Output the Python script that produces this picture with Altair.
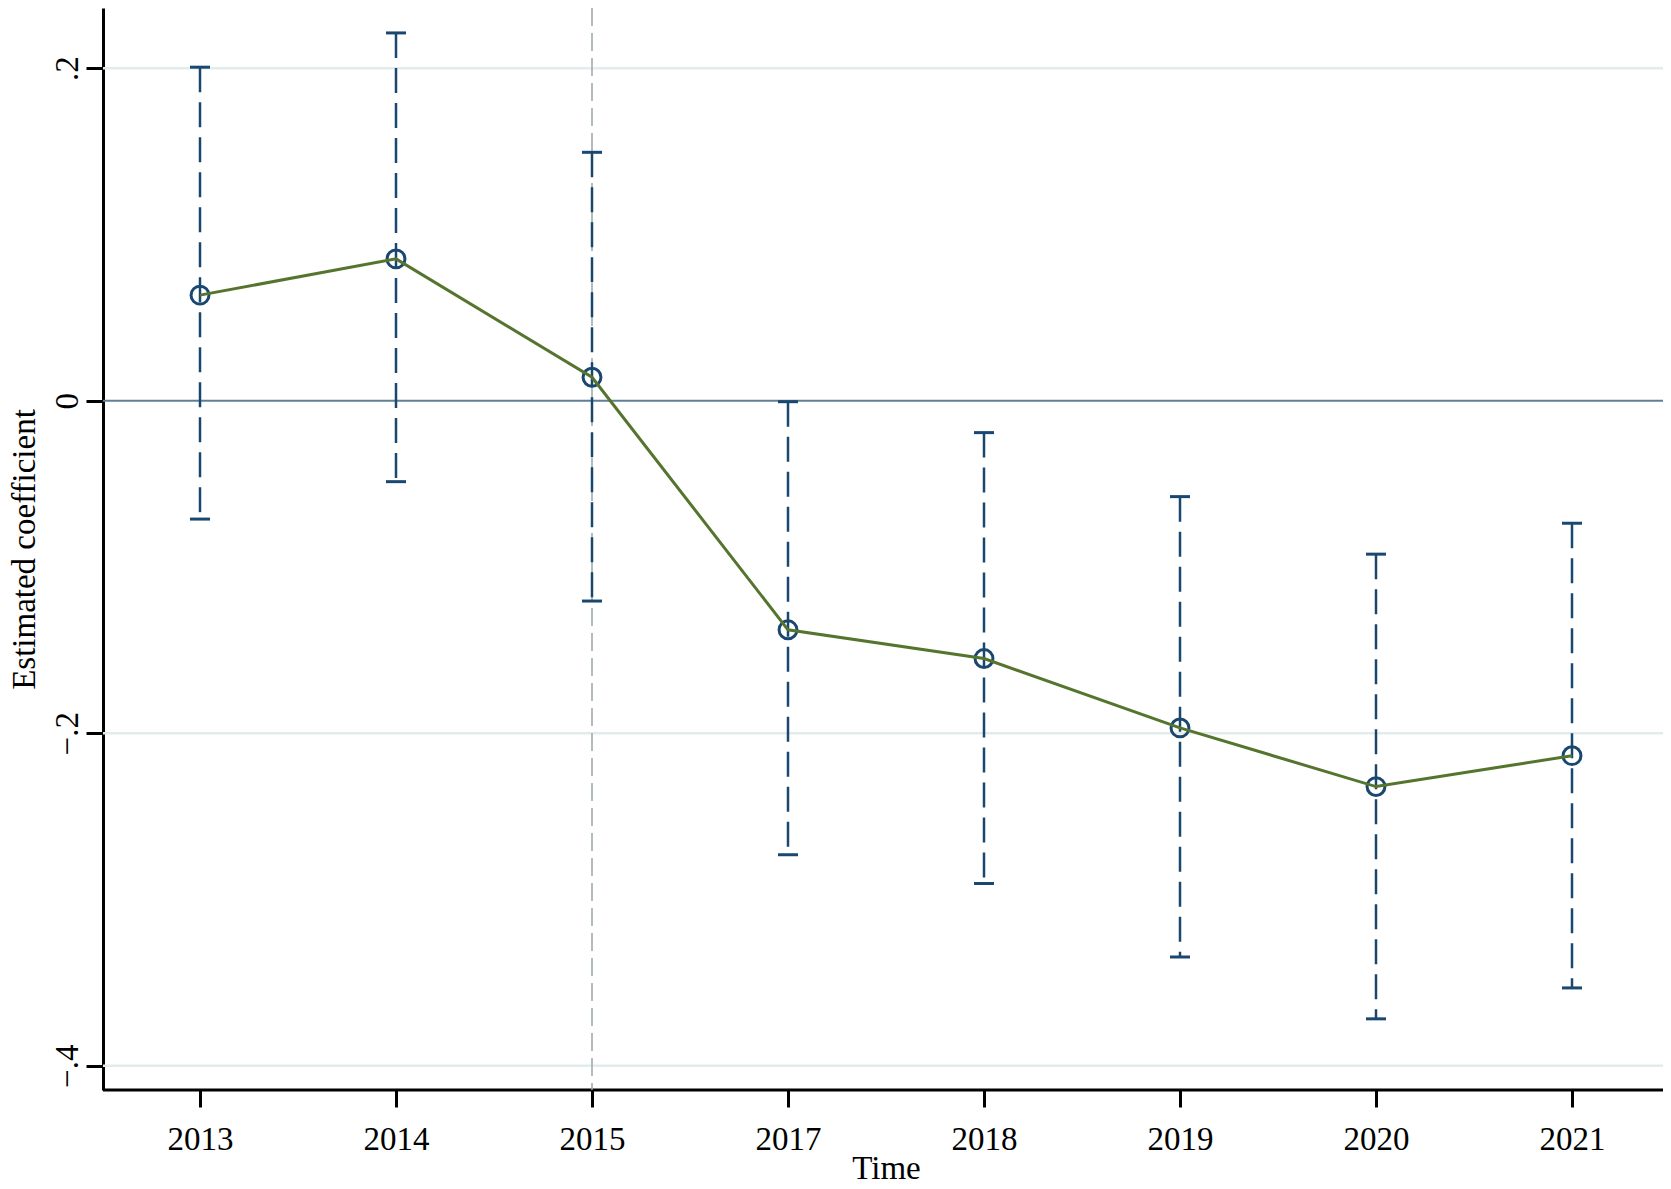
import altair as alt
import pandas as pd

years = ["2013", "2014", "2015", "2017", "2018", "2019", "2020", "2021"]
coef = [0.0635, 0.0853, 0.0141, -0.1378, -0.1551, -0.1968, -0.2321, -0.2135]
upper = [0.2006, 0.2212, 0.1494, -0.0006, -0.0192, -0.0577, -0.0923, -0.0737]
lower = [-0.0712, -0.0487, -0.1205, -0.2731, -0.2904, -0.3346, -0.3718, -0.3532]
grid_vals = [0.2, -0.2, -0.4]
y_ticks = [-0.4, -0.2, 0, 0.2]
event_year = "2015"
y_min, y_max = -0.4146, 0.2362

df = pd.DataFrame({"year": years, "coef": coef, "upper": upper, "lower": lower})
grid_df = pd.DataFrame({"g": grid_vals})

FONT = "Liberation Serif"
NAVY = "#1a476f"
GREEN = "#55752f"

xscale = alt.Scale(domain=years, type="point", range=[97, 1469], padding=0)
yscale = alt.Scale(domain=[y_min, y_max], nice=False, zero=False)

x_axis = alt.Axis(title="Time", domain=False)
y_axis = alt.Axis(title="Estimated coefficient", values=y_ticks,
                  labelAngle=270, labelAlign="center", labelBaseline="bottom",
                  labelPadding=2,
                  titleAngle=270, titleX=-69, titleY=541, titleAlign="center",
                  titleBaseline="alphabetic",
                  labelExpr="datum.value == 0 ? '0' : replace(format(datum.value, '.1f'), '0.', '.')")

base = alt.Chart(df)

grid = alt.Chart(grid_df).mark_rule(color="#e2ecec", strokeWidth=2.5).encode(
    y=alt.Y("g:Q", scale=yscale, title="Estimated coefficient")
)

zero = alt.Chart(pd.DataFrame({"z": [0]})).mark_rule(color="#5f7f94", strokeWidth=2).encode(
    y=alt.Y("z:Q", scale=yscale, title="Estimated coefficient")
)

baseline = alt.Chart(pd.DataFrame({"b": [y_min]})).mark_rule(color="black", strokeWidth=3).encode(
    y=alt.Y("b:Q", scale=yscale, title="Estimated coefficient")
)

vline = alt.Chart(pd.DataFrame({"yr": [event_year]})).mark_rule(
    color="#98a8a8", strokeWidth=1.5, strokeDash=[18, 7]
).encode(x=alt.X("yr:N", scale=xscale, sort=years, axis=x_axis))

err = base.mark_rule(color=NAVY, strokeWidth=2.5, strokeDash=[25, 10]).encode(
    x=alt.X("year:N", scale=xscale, sort=years, axis=x_axis),
    y=alt.Y("upper:Q", scale=yscale, axis=y_axis),
    y2="lower:Q",
)

cap_up = base.mark_tick(color=NAVY, thickness=3, size=20, orient="horizontal",
                        opacity=1).encode(
    x=alt.X("year:N", scale=xscale, sort=years, axis=x_axis),
    y=alt.Y("upper:Q", scale=yscale, title="Estimated coefficient"),
)
cap_lo = base.mark_tick(color=NAVY, thickness=3, size=20, orient="horizontal",
                        opacity=1).encode(
    x=alt.X("year:N", scale=xscale, sort=years, axis=x_axis),
    y=alt.Y("lower:Q", scale=yscale, title="Estimated coefficient"),
)

pts = base.mark_point(shape="circle", filled=False, color=NAVY, size=320,
                      strokeWidth=3, opacity=1).encode(
    x=alt.X("year:N", scale=xscale, sort=years, axis=x_axis),
    y=alt.Y("coef:Q", scale=yscale, title="Estimated coefficient"),
)

line = base.mark_line(color=GREEN, strokeWidth=3).encode(
    x=alt.X("year:N", scale=xscale, sort=years, axis=x_axis),
    y=alt.Y("coef:Q", scale=yscale, title="Estimated coefficient"),
)

chart = alt.layer(grid, zero, baseline, vline, err, cap_up, cap_lo, pts, line).properties(
    width=1560, height=1082,
    background="white",
    autosize=alt.AutoSizeParams(type="none"),
    padding={"left": 95, "top": 0, "right": 0, "bottom": 91},
).configure_view(stroke=None).configure_axis(
    labelFont=FONT, titleFont=FONT, labelFontSize=33, titleFontSize=33,
    titleFontWeight="normal", labelColor="black", titleColor="black",
    tickSize=17, tickWidth=3, domainWidth=3, domainColor="black",
    tickColor="black", grid=False,
).configure_axisX(
    labelAngle=0, labelAlign="center", labelBaseline="top", labelPadding=16,
    titleY=88, titleBaseline="alphabetic",
)

chart.save("out.html", embed_options={"renderer": "svg", "actions": False})
